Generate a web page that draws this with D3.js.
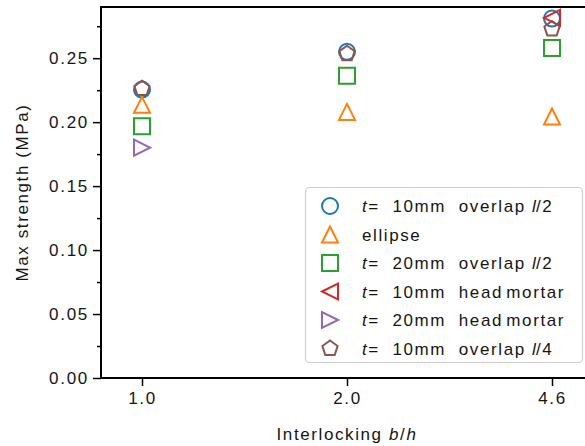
<!DOCTYPE html>
<html>
<head>
<meta charset="utf-8">
<script src="https://cdn.jsdelivr.net/npm/d3@7"></script>
<style>
  body { margin: 0; background: #fff; }
  text { font-family: "Liberation Sans", Arial, sans-serif; fill: #151515; }
</style>
</head>
<body>
<div id="chart"></div>
<script>
// interlocking ratios (categorical x)
var categories = ['1.0', '2.0', '4.6'];

// max strength (MPa) per series, null = no test
var t10Half = [0.2255, 0.255, 0.281];
var ellipse = [0.2135, 0.208, 0.2044];
var t20Half = [0.1967, 0.2363, 0.258];
var t10Head = [null, null, 0.2815];
var t20Head = [0.180, null, null];
var t10Quarter = [0.2262, 0.2535, 0.2728];

var yMajorTicks = [0, 0.05, 0.10, 0.15, 0.20, 0.25];
var yMinorTicks = [0.025, 0.075, 0.125, 0.175, 0.225, 0.275];

var width = 585, height = 446;
var margin = {left: 101, top: 7, right: 593, bottom: 378};

var svg = d3.select('#chart').append('svg')
    .attr('width', width)
    .attr('height', height);

var x = d3.scalePoint()
    .domain(categories)
    .range([margin.left, margin.right])
    .padding(0.2);

var y = d3.scaleLinear()
    .domain([0, 0.29])
    .range([margin.bottom, margin.top]);

// marker shapes, s = marker size in px
function markerPath(shape, s) {
    var r = s / 2;
    if (shape == 'circle') {
        return d3.symbol().type(d3.symbolCircle).size(Math.PI * r * r)();
    } else if (shape == 'square') {
        return 'M' + (-r) + ',' + (-r) + 'H' + r + 'V' + r + 'H' + (-r) + 'Z';
    } else if (shape == 'up') {
        return 'M0,' + (-r) + 'L' + r + ',' + r + 'L' + (-r) + ',' + r + 'Z';
    } else if (shape == 'left') {
        return 'M' + (-r) + ',0L' + r + ',' + (-r) + 'L' + r + ',' + r + 'Z';
    } else if (shape == 'right') {
        return 'M' + r + ',0L' + (-r) + ',' + (-r) + 'L' + (-r) + ',' + r + 'Z';
    } else {
        var pts = d3.range(5).map(function (i) {
            var a = -Math.PI / 2 + i * 2 * Math.PI / 5;
            return [r * Math.cos(a), r * Math.sin(a)];
        });
        return 'M' + pts.join('L') + 'Z';
    }
}

// label pieces: [text, italic, dx]
var series = [
    {values: t10Half, shape: 'circle', color: '#1f77b4',
        label: [['t', true], ['=  10mm  overlap ', false], ['l', true], ['/2', false, -1.5]]},
    {values: ellipse, shape: 'up', color: '#ff7f0e',
        label: [['ellipse', false]]},
    {values: t20Half, shape: 'square', color: '#2ca02c',
        label: [['t', true], ['=  20mm  overlap ', false], ['l', true], ['/2', false, -1.5]]},
    {values: t10Head, shape: 'left', color: '#d62728',
        label: [['t', true], ['=  10mm  head ', false], ['mortar', false, -3]]},
    {values: t20Head, shape: 'right', color: '#9467bd',
        label: [['t', true], ['=  20mm  head ', false], ['mortar', false, -3]]},
    {values: t10Quarter, shape: 'pentagon', color: '#8c564b',
        label: [['t', true], ['=  10mm  overlap ', false], ['l', true], ['/4', false, -1.5]]}
];

var markerSize = 16;

// axes
svg.append('g')
    .attr('transform', 'translate(' + margin.left + ',0)')
    .call(d3.axisLeft(y).tickValues(yMajorTicks).tickFormat(d3.format('.2f')).tickSize(8).tickPadding(4));

svg.append('g')
    .attr('transform', 'translate(' + margin.left + ',0)')
    .call(d3.axisLeft(y).tickValues(yMinorTicks).tickFormat('').tickSize(4))
    .select('.domain').remove();

svg.append('g')
    .attr('transform', 'translate(0,' + margin.bottom + ')')
    .call(d3.axisBottom(x).tickSize(8).tickPadding(6));

svg.selectAll('.tick line').attr('stroke', '#000').attr('stroke-width', 1.5);
svg.selectAll('.tick text')
    .attr('font-size', 17)
    .attr('letter-spacing', 1.7)
    .attr('fill', '#151515');
svg.selectAll('.domain').remove();

// spines
svg.append('rect')
    .attr('x', margin.left)
    .attr('y', margin.top)
    .attr('width', margin.right - margin.left)
    .attr('height', margin.bottom - margin.top)
    .attr('fill', 'none')
    .attr('stroke', '#000')
    .attr('stroke-width', 2);

// data markers
series.forEach(function (s) {
    svg.append('g').selectAll('path')
        .data(s.values.map(function (v, i) { return {cat: categories[i], v: v}; })
            .filter(function (d) { return d.v != null; }))
        .enter()
        .append('path')
        .attr('d', markerPath(s.shape, markerSize))
        .attr('transform', function (d) {
            return 'translate(' + x(d.cat) + ',' + y(d.v) + ')';
        })
        .attr('fill', 'none')
        .attr('stroke', s.color)
        .attr('stroke-width', 2);
});

// axis labels
svg.append('text')
    .attr('x', x('2.0'))
    .attr('y', 440)
    .attr('text-anchor', 'middle')
    .attr('font-size', 17)
    .attr('letter-spacing', 1.6)
    .call(function (t) {
        t.append('tspan').text('Interlocking ');
        t.append('tspan').attr('font-style', 'italic').text('b');
        t.append('tspan').text('/');
        t.append('tspan').attr('font-style', 'italic').text('h');
    });

svg.append('text')
    .attr('transform', 'translate(28,' + ((margin.top + margin.bottom) / 2) + ') rotate(-90)')
    .attr('text-anchor', 'middle')
    .attr('font-size', 17)
    .attr('letter-spacing', 1.6)
    .text('Max strength (MPa)');

// legend
var legend = svg.append('g');
legend.append('rect')
    .attr('x', 305.5)
    .attr('y', 187.5)
    .attr('width', 277)
    .attr('height', 175)
    .attr('rx', 4)
    .attr('fill', '#fff')
    .attr('fill-opacity', 0.8)
    .attr('stroke', '#d0d0d0')
    .attr('stroke-width', 1.2);

var rowY = d3.scaleLinear().domain([0, 5]).range([206, 348.5]);

series.forEach(function (s, i) {
    legend.append('path')
        .attr('d', markerPath(s.shape, markerSize))
        .attr('transform', 'translate(330,' + rowY(i) + ')')
        .attr('fill', 'none')
        .attr('stroke', s.color)
        .attr('stroke-width', 2);
    var t = legend.append('text')
        .attr('x', 362)
        .attr('y', rowY(i))
        .attr('dy', '0.36em')
        .attr('font-size', 17)
        .attr('letter-spacing', 1.6)
        .style('white-space', 'pre');
    s.label.forEach(function (p) {
        t.append('tspan')
            .attr('font-style', p[1] ? 'italic' : 'normal')
            .attr('dx', p[2] || 0)
            .text(p[0]);
    });
});
</script>
</body>
</html>
